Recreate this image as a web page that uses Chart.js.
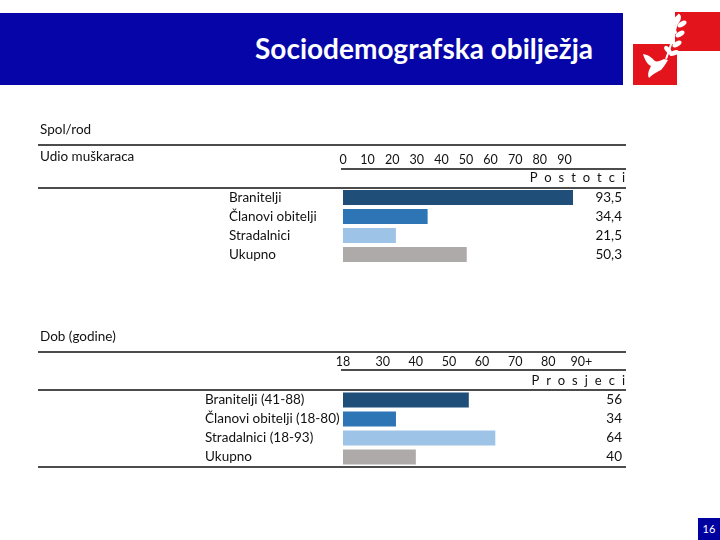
<!DOCTYPE html>
<html>
<head>
<meta charset="utf-8">
<script src="https://cdn.jsdelivr.net/npm/chart.js@4.4.1/dist/chart.umd.min.js"></script>
<style>
  body { margin: 0; width: 720px; height: 540px; background: #fff; position: relative; overflow: hidden; font-family: Lato, "Open Sans", sans-serif; }
  #header { position: absolute; left: 0; top: 13px; width: 623px; height: 72px; background: #0606a8; }
  #title { position: absolute; left: 0; top: 12px; width: 593px; height: 72px; line-height: 72px; text-align: right; color: #fff; font-weight: bold; font-size: 28px; }
  #logo { position: absolute; left: 633px; top: 12px; }
  #page { position: absolute; left: 698px; top: 518px; width: 22px; height: 22px; background: #0000a0; color: #fff; font-size: 11px; line-height: 22px; text-align: center; }
  canvas { position: absolute; left: 0; }
  #genderChart { top: 110px; }
  #ageChart { top: 320px; }
</style>
</head>
<body>
<div id="header"></div>
<div id="title">Sociodemografska obilježja</div>
<svg id="logo" width="87" height="73" viewBox="0 0 87 73">
  <rect x="42" y="0" width="45" height="39" fill="#e3141b"/>
  <rect x="0" y="32" width="44" height="41" fill="#e3141b"/>
  <path d="M33 47 C38 34 42 20 46 2" stroke="#fff" stroke-width="2" fill="none"/>
  <ellipse cx="44" cy="8" rx="3" ry="6" fill="#fff" transform="rotate(30 44 8)"/>
  <ellipse cx="49" cy="12" rx="2.5" ry="5" fill="#fff" transform="rotate(60 49 12)"/>
  <ellipse cx="40" cy="18" rx="2.5" ry="5" fill="#fff" transform="rotate(-40 40 18)"/>
  <ellipse cx="47" cy="22" rx="2.5" ry="5" fill="#fff" transform="rotate(60 47 22)"/>
  <ellipse cx="38" cy="28" rx="2.5" ry="5" fill="#fff" transform="rotate(-40 38 28)"/>
  <ellipse cx="44" cy="32" rx="2.5" ry="5" fill="#fff" transform="rotate(60 44 32)"/>
  <ellipse cx="35" cy="38" rx="2.5" ry="5" fill="#fff" transform="rotate(-40 35 38)"/>
  <ellipse cx="41" cy="41" rx="2.5" ry="5" fill="#fff" transform="rotate(70 41 41)"/>
  <path d="M10 42 C12 48 14 52 18 54 C16 58 14 62 16 66 C20 62 24 60 28 58 C31 55 33 51 35 48 L31 47 C27 49 24 50 22 49 C19 46 16 43 10 42 Z" fill="#fff"/>
</svg>
<div id="page">16</div>

<canvas id="genderChart" width="720" height="170"></canvas>
<canvas id="ageChart" width="720" height="160"></canvas>

<script>
const FONT = "Lato, 'Open Sans', sans-serif";

// Spol/rod - udio muskaraca (%)
const genderGroups = ["Branitelji", "Članovi obitelji", "Stradalnici", "Ukupno"];
const menShare = [93.5, 34.4, 21.5, 50.3];
const percentTicks = [0, 10, 20, 30, 40, 50, 60, 70, 80, 90];
const percentTickLabels = ["0", "10", "20", "30", "40", "50", "60", "70", "80", "90"];

// Dob (godine) - prosjek
const ageGroups = ["Branitelji (41-88)", "Članovi obitelji (18-80)", "Stradalnici (18-93)", "Ukupno"];
const meanAge = [56, 34, 64, 40];
const ageTicks = [18, 30, 40, 50, 60, 70, 80, 90];
const ageTickLabels = ["18", "30", "40", "50", "60", "70", "80", "90+"];

const barColors = ["#1f4e79", "#2e75b6", "#9dc3e6", "#aeaaaa"];

// ---- lines + headings around each table ----
const tableLines = {
    id: "tableLines",
    afterDraw(chart, args, o) {
        const ctx = chart.ctx;
        const top = o.canvasTop;
        const hline = (y, x0, x1) => {
            ctx.beginPath();
            ctx.moveTo(x0, y - top);
            ctx.lineTo(x1, y - top);
            ctx.stroke();
        };
        ctx.save();
        ctx.strokeStyle = "#111";
        ctx.lineWidth = 1.5;
        o.fullLines.forEach(y => hline(y, 38, 626));
        hline(o.underline, chart.chartArea.left - 2, 626);

        ctx.fillStyle = "#111";
        ctx.font = "13.5px " + FONT;
        ctx.textBaseline = "middle";
        ctx.textAlign = "left";
        o.headings.forEach(h => ctx.fillText(h.text, 40, h.y - top));

        // unit label, spaced out like the original table
        ctx.font = "13px " + FONT;
        ctx.textAlign = "right";
        ctx.letterSpacing = "7px";
        ctx.fillText(o.unit, 625 + 7, o.unitY - top);
        ctx.restore();
    }
};

function makeTable(id, o) {
    return new Chart(document.getElementById(id), {
        type: "bar",
        data: {
            labels: o.groups,
            datasets: [{
                data: o.values,
                backgroundColor: barColors,
                categoryPercentage: 1,
                barPercentage: 0.8
            }]
        },
        options: {
            indexAxis: "y",
            responsive: false,
            animation: false,
            layout: { padding: o.padding },
            plugins: {
                legend: { display: false },
                tooltip: { enabled: false },
                tableLines: o.lines
            },
            scales: {
                x: {
                    type: "linear",
                    position: "top",
                    min: o.min,
                    max: o.max,
                    afterBuildTicks: s => { s.ticks = o.ticks.map(v => ({ value: v })); },
                    afterFit: s => { s.height = 40; },
                    grid: { display: false, drawTicks: false },
                    border: { display: false },
                    ticks: {
                        autoSkip: false,
                        maxRotation: 0,
                        padding: 21,
                        color: "#111",
                        font: { family: FONT, size: 12.5 },
                        callback: (v, i) => o.tickLabels[i]
                    }
                },
                y: {
                    offset: true,
                    afterFit: s => { s.width = o.labelWidth; },
                    grid: { display: false },
                    border: { display: false },
                    ticks: { autoSkip: false, crossAlign: "far", color: "#111", font: { family: FONT, size: 13.5 } }
                },
                y2: {
                    type: "category",
                    position: "right",
                    offset: true,
                    labels: o.valueLabels,
                    afterFit: s => { s.width = o.valueWidth; },
                    grid: { display: false },
                    border: { display: false },
                    ticks: { autoSkip: false, crossAlign: "far", color: "#111", font: { family: FONT, size: 13.5 } }
                }
            }
        },
        plugins: [tableLines]
    });
}

makeTable("genderChart", {
    groups: genderGroups,
    values: menShare,
    valueLabels: menShare.map(v => v.toFixed(1).replace(".", ",")),
    min: 0, max: 100,
    ticks: percentTicks,
    tickLabels: percentTickLabels,
    labelWidth: 114,
    valueWidth: 33,
    padding: { left: 229, right: 98, top: 38, bottom: 16 },
    lines: {
        canvasTop: 110,
        fullLines: [145, 188],
        underline: 169,
        headings: [{ text: "Spol/rod", y: 130 }, { text: "Udio muškaraca", y: 157 }],
        unit: "Postotci",
        unitY: 178
    }
});

makeTable("ageChart", {
    groups: ageGroups,
    values: meanAge,
    valueLabels: meanAge.map(String),
    min: 18, max: 92,
    ticks: ageTicks,
    tickLabels: ageTickLabels,
    labelWidth: 138,
    valueWidth: 34,
    padding: { left: 205, right: 98, top: 30.5, bottom: 13.5 },
    lines: {
        canvasTop: 320,
        fullLines: [352, 390, 467],
        underline: 370,
        headings: [{ text: "Dob (godine)", y: 337 }],
        unit: "Prosjeci",
        unitY: 381
    }
});
</script>
</body>
</html>
